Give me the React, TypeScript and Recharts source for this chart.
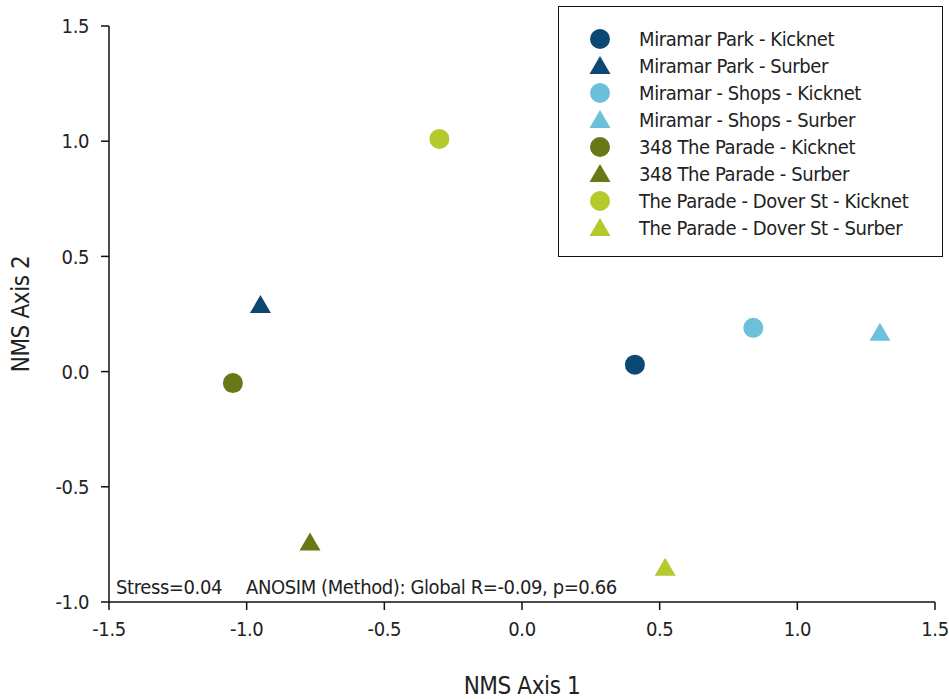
import React from 'react';
import { ScatterChart, Scatter, XAxis, YAxis, Customized } from 'recharts';

const seriesNames = [
  'Miramar Park - Kicknet',
  'Miramar Park - Surber',
  'Miramar - Shops - Kicknet',
  'Miramar - Shops - Surber',
  '348 The Parade - Kicknet',
  '348 The Parade - Surber',
  'The Parade - Dover St - Kicknet',
  'The Parade - Dover St - Surber',
];
const seriesShapes = ['circle', 'triangle', 'circle', 'triangle', 'circle', 'triangle', 'circle', 'triangle'];
const seriesColors = ['#0b4972', '#0b4972', '#6cc0d9', '#6cc0d9', '#687817', '#687817', '#b4c92b', '#b4c92b'];
const axis1Values = [0.41, -0.95, 0.84, 1.3, -1.05, -0.77, -0.3, 0.52];
const axis2Values = [0.03, 0.28, 0.19, 0.16, -0.05, -0.75, 1.01, -0.86];
const xTicks = [-1.5, -1.0, -0.5, 0.0, 0.5, 1.0, 1.5];
const yTicks = [-1.0, -0.5, 0.0, 0.5, 1.0, 1.5];
const stressText = 'Stress=0.04';
const anosimText = 'ANOSIM (Method): Global R=-0.09, p=0.66';

const FONT = "'DejaVu Sans Condensed', 'Liberation Sans Narrow', 'Roboto', sans-serif";
const TEXT = '#222';
const LS = -0.4;

const CircleShape = (props: any) => {
  const { cx, cy, fill } = props;
  if (cx == null || cy == null) return null;
  return <circle cx={cx} cy={cy} r={10} fill={fill} />;
};
const TriangleShape = (props: any) => {
  const { cx, cy, fill } = props;
  if (cx == null || cy == null) return null;
  const pts = `${cx},${cy - 12} ${cx - 10.5},${cy + 6} ${cx + 10.5},${cy + 6}`;
  return <polygon points={pts} fill={fill} />;
};

const LegendBox = () => (
  <div
    style={{
      position: 'absolute',
      left: 558,
      top: 6,
      border: '1.5px solid #111',
      background: '#fff',
      width: 385,
      height: 251,
      boxSizing: 'border-box',
      paddingTop: 18,
      fontFamily: FONT,
    }}
  >
    {seriesNames.map((n, i) => (
      <div key={n} style={{ display: 'flex', alignItems: 'center', height: 27 }}>
        <svg width={80} height={26} style={{ flex: 'none' }}>
          {seriesShapes[i] === 'circle' ? (
            <circle cx={41} cy={13} r={10} fill={seriesColors[i]} />
          ) : (
            <polygon points="41,3 30.5,21 51.5,21" fill={seriesColors[i]} />
          )}
        </svg>
        <span style={{ fontSize: 20, letterSpacing: LS, color: TEXT, whiteSpace: 'nowrap' }}>{n}</span>
      </div>
    ))}
  </div>
);

const Annotation = () => (
  <g fontFamily={FONT} fontSize={20} fill={TEXT} letterSpacing={LS}>
    <text x={116} y={594}>{stressText}</text>
    <text x={246} y={594}>{anosimText}</text>
  </g>
);

export default function App() {
  const data = seriesNames.map((name, i) => ({
    name,
    points: [{ x: axis1Values[i], y: axis2Values[i] }],
    color: seriesColors[i],
    shape: seriesShapes[i],
  }));
  const tickStyle = { fontFamily: FONT, fontSize: 20, fill: TEXT, letterSpacing: LS };
  return (
    <div style={{ position: 'absolute', left: 0, top: 0, width: 949, height: 699, background: '#fff' }}>
      <ScatterChart width={949} height={699} margin={{ top: 26, right: 14, bottom: 0, left: 0 }}>
        <XAxis
          type="number"
          dataKey="x"
          domain={[-1.5, 1.5]}
          ticks={xTicks}
          tickFormatter={(v: number) => v.toFixed(1)}
          tick={tickStyle}
          tickSize={8}
          tickMargin={12}
          axisLine={{ stroke: '#111', strokeWidth: 1.5 }}
          tickLine={{ stroke: '#111', strokeWidth: 1.5 }}
          height={97}
          label={{ value: 'NMS Axis 1', position: 'insideBottom', offset: 5, style: { fontFamily: FONT, fontSize: 24, fill: TEXT, letterSpacing: LS } }}
          allowDataOverflow
        />
        <YAxis
          type="number"
          dataKey="y"
          domain={[-1.0, 1.5]}
          ticks={yTicks}
          tickFormatter={(v: number) => v.toFixed(1)}
          tick={tickStyle}
          tickSize={8}
          tickMargin={12}
          axisLine={{ stroke: '#111', strokeWidth: 1.5 }}
          tickLine={{ stroke: '#111', strokeWidth: 1.5 }}
          width={109}
          label={{ value: 'NMS Axis 2', angle: -90, position: 'insideLeft', offset: 20, style: { fontFamily: FONT, fontSize: 24, fill: TEXT, textAnchor: 'middle', letterSpacing: LS } }}
          allowDataOverflow
        />
        {data.map((s) => (
          <Scatter
            key={s.name}
            name={s.name}
            data={s.points}
            fill={s.color}
            shape={s.shape === 'circle' ? CircleShape : TriangleShape}
            isAnimationActive={false}
          />
        ))}
        <Customized component={Annotation} />
      </ScatterChart>
      <LegendBox />
    </div>
  );
}
